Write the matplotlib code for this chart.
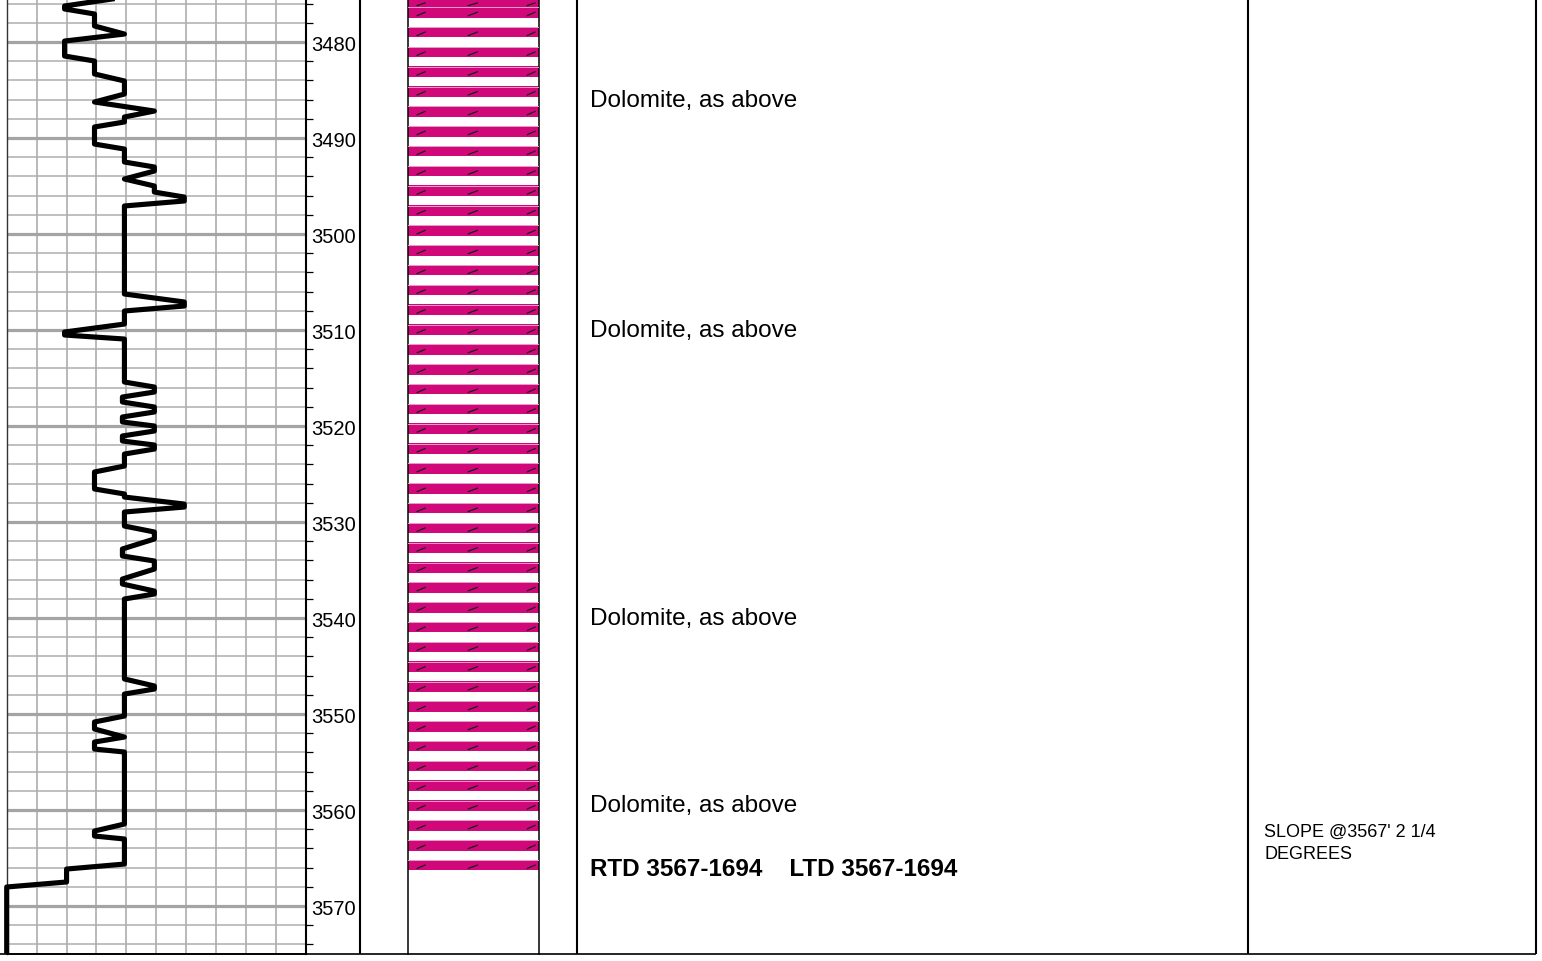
import numpy as np
import matplotlib
matplotlib.use('Agg')
import matplotlib.pyplot as plt

plt.rcParams['font.family'] = ['Liberation Sans', 'DejaVu Sans']

# log curve (0-150 scale, 10 divisions)
curve_depth = [3475.3, 3476.25, 3476.56, 3477.08, 3478.33, 3479.17, 3479.9, 3481.46, 3481.98,
               3483.33, 3484.06, 3485.42, 3486.25, 3487.19, 3487.81, 3488.33, 3488.85, 3490.63,
               3491.15, 3492.5, 3493.02, 3493.44, 3494.27, 3495.0, 3495.63, 3496.15, 3496.56,
               3497.08, 3506.25, 3507.08, 3507.5, 3508.02, 3509.38, 3510.21, 3510.52, 3510.94,
               3515.42, 3515.94, 3516.46, 3516.98, 3517.5, 3518.02, 3518.54, 3519.06, 3519.58,
               3520.0, 3520.52, 3521.04, 3521.56, 3521.98, 3522.4, 3522.92, 3524.17, 3524.79,
               3526.56, 3527.08, 3527.4, 3528.13, 3528.44, 3528.96, 3530.42, 3531.04, 3531.77,
               3532.81, 3533.54, 3534.06, 3534.9, 3535.94, 3536.46, 3537.19, 3537.5, 3538.02,
               3546.35, 3547.08, 3547.4, 3547.92, 3550.21, 3550.83, 3551.56, 3552.4, 3552.92,
               3553.65, 3553.96, 3561.46, 3562.19, 3562.71, 3563.02, 3565.63, 3566.15, 3567.5,
               3568.02, 3574.69]
curve_value = [60, 29, 29, 44, 44, 59, 29, 29, 44,
               44, 59, 59, 44, 74, 59, 59, 44, 44,
               59, 59, 74, 74, 59, 74, 74, 89, 89,
               59, 59, 89, 89, 59, 59, 29, 29, 59,
               59, 74, 74, 58, 58, 74, 74, 58, 58,
               74, 74, 58, 58, 74, 74, 59, 59, 44,
               44, 59, 59, 89, 89, 59, 59, 74, 74,
               58, 58, 74, 74, 58, 58, 74, 74, 59,
               59, 74, 74, 59, 59, 44, 44, 59, 44,
               44, 59, 59, 44, 44, 59, 59, 30, 30,
               0, 0]

# lithology (dolomite) intervals
lith_top = [3475.52, 3476.35]
lith_base = [3476.35, 3567.0]

desc_depth = [3486.0, 3510.0, 3540.0, 3559.5]
desc_text = ['Dolomite, as above', 'Dolomite, as above', 'Dolomite, as above', 'Dolomite, as above']
td_depth = 3566.1
td_text = 'RTD 3567-1694    LTD 3567-1694'
note_depth = [3562.2, 3564.5]
note_text = ["SLOPE @3567' 2 1/4", 'DEGREES']

top_depth = 3475.52
base_depth = 3575.0

W, H = 1542, 962
fig = plt.figure(figsize=(W / 100, H / 100), dpi=100)


def px_axes(x0, x1):
    a = fig.add_axes([x0 / W, (H - 955) / H, (x1 - x0) / W, 955 / H])
    a.set_facecolor('none')
    return a


# curve track
ax = px_axes(6.7, 306)
ax.set_xlim(0, 150)
ax.set_ylim(base_depth, top_depth)
for v in np.arange(15, 150, 15):
    ax.axvline(v, color='#a6a6a6', lw=1.1, zorder=1)
for d in range(3476, 3576, 2):
    if d % 10 == 0:
        ax.axhline(d, color='#a4a4a4', lw=2.3, zorder=1)
    else:
        ax.axhline(d, color='#aeaeae', lw=1.1, zorder=1)
ax.plot(curve_value, curve_depth, color='black', lw=3.7, solid_joinstyle='round',
        clip_on=False, zorder=5)
ax.spines['top'].set_visible(False)
ax.spines['left'].set_color('#333333')
ax.spines['left'].set_linewidth(1.0)
ax.spines['right'].set_linewidth(1.5)
ax.spines['bottom'].set_linewidth(1.2)
ax.set_xticks([])
ax.yaxis.tick_right()
ax.set_yticks(range(3480, 3575, 10))
ax.set_yticks([d for d in range(3476, 3576, 2) if d % 10 != 0], minor=True)
ax.tick_params(axis='y', which='major', length=0, pad=4, labelsize=14.5)
ax.tick_params(axis='y', which='minor', length=5, width=0.9, direction='out')

# lithology track
axl = px_axes(408, 539)
axl.set_xlim(0, 1)
axl.set_ylim(base_depth, top_depth)
axl.set_xticks([])
axl.set_yticks([])
axl.spines['top'].set_visible(False)
axl.spines['bottom'].set_visible(False)
axl.spines['left'].set_linewidth(1.1)
axl.spines['right'].set_linewidth(1.1)
period = 2.066
band = 1.1
for t0, b0 in zip(lith_top, lith_base):
    t = t0
    while t < b0 - 0.05:
        b = min(t + band, b0)
        axl.axhspan(t, b, facecolor='#d1087a', edgecolor='none', lw=0, zorder=2)
        axl.plot([0, 1], [t + 0.03, t + 0.03], color='#e7a2c8', lw=0.7, zorder=3)
        h = b - t
        for x0, x1 in [(0.07, 0.13), (0.46, 0.53), (0.91, 0.97)]:
            axl.plot([x0, x1], [t + 0.82 * h, t + 0.5 * h], color='#1a1a1a', lw=0.9, zorder=4)
        t += period

# description and notes
axt = px_axes(577, 1536)
axt.set_xlim(577, 1536)
axt.set_ylim(base_depth, top_depth)
axt.axis('off')
for d, s in zip(desc_depth, desc_text):
    axt.text(590, d, s, fontsize=17.5, va='center', ha='left')
axt.text(590, td_depth, td_text, fontsize=17.5, fontweight='bold', va='center', ha='left')
for d, s in zip(note_depth, note_text):
    axt.text(1264, d, s, fontsize=13, va='center', ha='left')

# column frame
axf = fig.add_axes([0, 0, 1, 1])
axf.set_xlim(0, W)
axf.set_ylim(H, 0)
axf.axis('off')
axf.patch.set_visible(False)
axf.vlines([359.5, 577, 1248, 1536], 0, 955, color='black', lw=1.5)
axf.hlines(955, 0, 1536, color='black', lw=1.2)

fig.savefig('out.png', dpi=100)
